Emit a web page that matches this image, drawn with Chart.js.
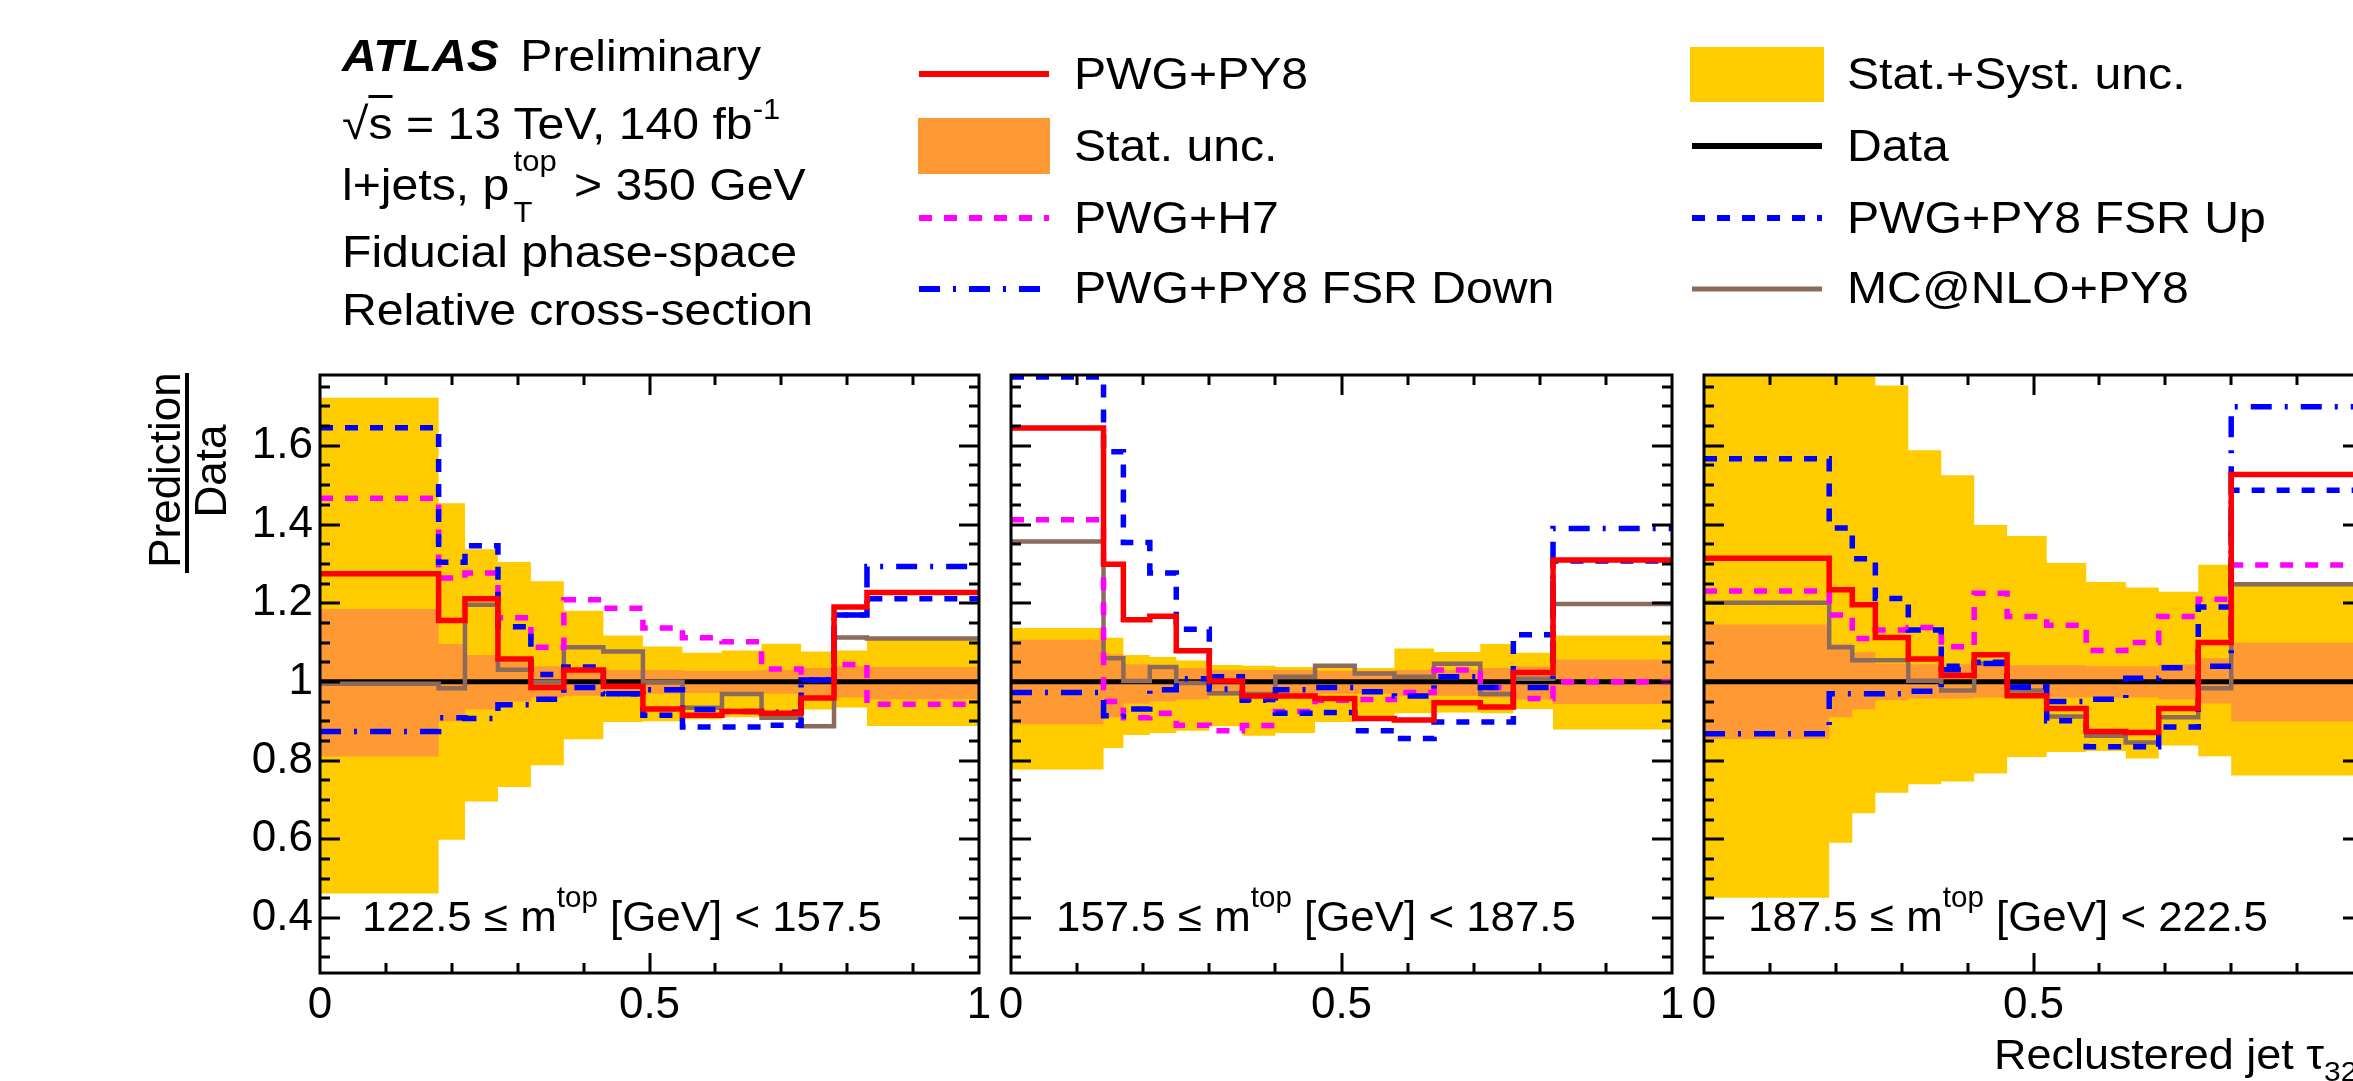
<!DOCTYPE html>
<html>
<head>
<meta charset="utf-8">
<title>Reclustered jet tau32 ratio</title>
<script src="https://cdn.jsdelivr.net/npm/chart.js@4.4.1/dist/chart.umd.min.js"></script>
<style>
  html, body { margin: 0; padding: 0; }
  body { width: 2353px; height: 1081px; overflow: hidden; background: #fff; position: relative;
         font-family: "Liberation Sans", Arial, Helvetica, sans-serif; color: #000; }
  canvas { position: absolute; top: 0; }
  .txt { position: absolute; white-space: nowrap; line-height: 1; font-size: 45px;
         transform: scaleX(1.07); transform-origin: 0 0; }
  .lab { font-size: 43px; transform: scaleX(1.02); }
  .rot { font-size: 44px; transform: rotate(-90deg); transform-origin: 50% 50%; text-align: center; width: 300px; }
  .up { position: relative; font-size: 29px; }
  .stack { display: inline-block; position: relative; width: 44px; height: 45px; margin-left: 4px; vertical-align: top; }
  .stack span { position: absolute; left: 0; font-size: 29px; line-height: 1; }
</style>
</head>
<body>
<canvas id="leg" width="2353" height="1081" style="left:0"></canvas>
<canvas id="p1" width="1000" height="1081" style="left:0"></canvas>
<canvas id="p2" width="731" height="1081" style="left:971px"></canvas>
<canvas id="p3" width="740" height="1081" style="left:1664px"></canvas>

<!-- header -->
<div class="txt" style="left:342px;top:33px"><b><i>ATLAS</i></b><span style="margin-left:20px">Preliminary</span></div>
<div class="txt" style="left:342px;top:101px">&radic;<span style="text-decoration:overline;text-decoration-thickness:3px">s</span> = 13 TeV, 140 fb<span class="up" style="top:-20px">-1</span></div>
<div class="txt" style="left:342px;top:162px">l+jets, p<span class="stack"><span style="top:-15px">top</span><span style="top:36px">T</span></span> &gt; 350 GeV</div>
<div class="txt" style="left:342px;top:229px">Fiducial phase-space</div>
<div class="txt" style="left:342px;top:287px">Relative cross-section</div>

<!-- legend text -->
<div class="txt" style="left:1074px;top:51px">PWG+PY8</div>
<div class="txt" style="left:1074px;top:123px">Stat. unc.</div>
<div class="txt" style="left:1074px;top:195px">PWG+H7</div>
<div class="txt" style="left:1074px;top:265px">PWG+PY8 FSR Down</div>
<div class="txt" style="left:1847px;top:51px">Stat.+Syst. unc.</div>
<div class="txt" style="left:1847px;top:123px">Data</div>
<div class="txt" style="left:1847px;top:195px">PWG+PY8 FSR Up</div>
<div class="txt" style="left:1847px;top:265px">MC@NLO+PY8</div>

<!-- y title -->
<div class="txt rot" style="left:15px;top:448px">Prediction</div>
<div class="txt rot" style="left:61px;top:449px">Data</div>
<div style="position:absolute;left:185px;top:373px;width:4px;height:200px;background:#000"></div>

<!-- panel labels -->
<div class="txt lab" style="left:362px;top:895px">122.5 &le; m<span class="up" style="top:-24px">top</span> [GeV] &lt; 157.5</div>
<div class="txt lab" style="left:1056px;top:895px">157.5 &le; m<span class="up" style="top:-24px">top</span> [GeV] &lt; 187.5</div>
<div class="txt lab" style="left:1748px;top:895px">187.5 &le; m<span class="up" style="top:-24px">top</span> [GeV] &lt; 222.5</div>

<!-- x title -->
<div class="txt" style="left:1994px;top:1034px;font-size:42px">Reclustered jet &tau;<span class="up" style="top:12px;font-size:28px">32</span></div>

<script>
// bin edges and ratios
// panel 1: 122.5 <= m_top < 157.5
const edges1 = [0, 0.18, 0.22, 0.27, 0.32, 0.37, 0.43, 0.49, 0.55, 0.61, 0.67, 0.73, 0.78, 0.83, 1.0];
const totUp1 = [1.722, 1.454, 1.337, 1.305, 1.256, 1.181, 1.118, 1.09, 1.074, 1.08, 1.097, 1.077, 1.08, 1.11];
const totDn1 = [0.462, 0.599, 0.696, 0.733, 0.788, 0.854, 0.898, 0.90, 0.905, 0.91, 0.915, 0.93, 0.935, 0.888];
const statUp1 = [1.185, 1.096, 1.068, 1.05, 1.04, 1.035, 1.03, 1.03, 1.028, 1.028, 1.03, 1.035, 1.04, 1.038];
const statDn1 = [0.81, 0.90, 0.93, 0.95, 0.96, 0.965, 0.97, 0.97, 0.972, 0.972, 0.97, 0.965, 0.96, 0.956];
const pwgPy8_1 = [1.275, 1.156, 1.211, 1.058, 0.986, 1.03, 0.989, 0.931, 0.915, 0.925, 0.92, 0.959, 1.19, 1.227];
const pwgH7_1 = [1.467, 1.264, 1.277, 1.163, 1.088, 1.209, 1.187, 1.137, 1.112, 1.102, 1.033, 1.005, 1.044, 0.943];
const fsrUp1 = [1.646, 1.304, 1.346, 1.14, 1.019, 1.038, 0.97, 0.915, 0.885, 0.885, 0.89, 1.005, 1.17, 1.211];
const fsrDown1 = [0.874, 0.909, 0.907, 0.942, 0.956, 0.986, 0.97, 0.98, 0.93, 0.925, 0.923, 1.005, 1.17, 1.293];
const mcnlo1 = [0.995, 0.984, 1.196, 1.031, 1.0, 1.088, 1.077, 1.0, 0.934, 0.969, 0.909, 0.887, 1.113, 1.11];

// panel 2: 157.5 <= m_top < 187.5
const edges2 = [0, 0.14, 0.17, 0.21, 0.25, 0.30, 0.35, 0.40, 0.46, 0.52, 0.58, 0.64, 0.71, 0.76, 0.82, 1.0];
const totUp2 = [1.137, 1.112, 1.068, 1.063, 1.054, 1.043, 1.041, 1.038, 1.035, 1.035, 1.085, 1.076, 1.096, 1.074, 1.118];
const totDn2 = [0.777, 0.832, 0.865, 0.87, 0.876, 0.887, 0.863, 0.87, 0.898, 0.909, 0.92, 0.922, 0.92, 0.931, 0.879];
const statUp2 = [1.107, 1.07, 1.045, 1.04, 1.035, 1.03, 1.03, 1.03, 1.028, 1.028, 1.03, 1.03, 1.035, 1.04, 1.057];
const statDn2 = [0.892, 0.91, 0.945, 0.95, 0.955, 0.965, 0.965, 0.965, 0.97, 0.97, 0.965, 0.965, 0.96, 0.955, 0.944];
const pwgPy8_2 = [1.645, 1.299, 1.158, 1.167, 1.079, 1.002, 0.964, 0.964, 0.958, 0.907, 0.903, 0.947, 0.936, 1.024, 1.31];
const pwgH7_2 = [1.412, 0.95, 0.909, 0.92, 0.89, 0.876, 0.889, 0.925, 0.953, 0.955, 0.973, 1.03, 0.986, 0.958, 1.0];
const fsrUp2 = [1.775, 1.585, 1.354, 1.277, 1.134, 1.013, 0.955, 0.92, 0.922, 0.876, 0.856, 0.898, 0.898, 1.12, 1.307];
const fsrDown2 = [0.973, 0.914, 0.931, 0.98, 1.008, 0.982, 0.953, 0.98, 0.986, 0.975, 0.964, 1.013, 0.986, 0.986, 1.39];
const mcnlo2 = [1.357, 1.06, 1.002, 1.038, 0.997, 0.971, 0.969, 1.013, 1.041, 1.021, 1.013, 1.046, 0.969, 1.008, 1.198];

// panel 3: 187.5 <= m_top < 222.5
const edges3 = [0, 0.19, 0.225, 0.26, 0.31, 0.36, 0.41, 0.46, 0.52, 0.58, 0.64, 0.69, 0.75, 0.80, 1.0];
const totUp3 = [1.85, 1.85, 1.85, 1.753, 1.589, 1.525, 1.399, 1.371, 1.302, 1.254, 1.24, 1.229, 1.298, 1.25];
const totDn3 = [0.451, 0.591, 0.666, 0.718, 0.74, 0.747, 0.767, 0.809, 0.822, 0.824, 0.805, 0.838, 0.811, 0.762];
const statUp3 = [1.146, 1.097, 1.075, 1.047, 1.045, 1.045, 1.042, 1.042, 1.042, 1.04, 1.04, 1.045, 1.06, 1.1];
const statDn3 = [0.855, 0.91, 0.93, 0.954, 0.958, 0.958, 0.96, 0.96, 0.96, 0.96, 0.96, 0.955, 0.945, 0.899];
const pwgPy8_3 = [1.314, 1.234, 1.196, 1.113, 1.058, 1.016, 1.069, 0.965, 0.932, 0.874, 0.871, 0.932, 1.1, 1.527];
const pwgH7_3 = [1.231, 1.17, 1.11, 1.132, 1.138, 1.089, 1.225, 1.166, 1.144, 1.08, 1.1, 1.166, 1.21, 1.297];
const fsrUp3 = [1.567, 1.391, 1.313, 1.212, 1.132, 1.04, 1.05, 0.987, 0.901, 0.835, 0.835, 0.885, 1.19, 1.487];
const fsrDown3 = [0.868, 0.97, 0.97, 0.97, 0.976, 1.031, 1.047, 0.987, 0.95, 0.956, 1.009, 1.036, 1.04, 1.699];
const mcnlo3 = [1.201, 1.088, 1.055, 1.055, 1.003, 0.978, 1.047, 0.978, 0.912, 0.863, 0.846, 0.91, 0.984, 1.248];

// data / data
const dataRatio = [1];

const FONT = '"Liberation Sans", Arial, Helvetica, sans-serif';
const YELLOW = '#ffcc00', ORANGE = '#ff9933', RED = '#ff0000', BLUE = '#0000ff',
      MAGENTA = '#ff00ff', BROWN = '#8c6b5d';
const DASH = [13, 12], DASHDOT = [21, 13, 3, 13];
const NONE = 'rgba(0,0,0,0)';

// histogram -> points for a stepped line (last bin closed at the right edge)
function steps(edges, vals) {
  const pts = vals.map((v, i) => ({ x: edges[i], y: v }));
  pts.push({ x: edges[edges.length - 1], y: vals[vals.length - 1] });
  return pts;
}

function hist(edges, vals, color, width, dash, order) {
  return { data: steps(edges, vals), stepped: 'before', borderColor: color, borderWidth: width,
           borderDash: dash, fill: false, pointRadius: 0, order: order };
}

function band(edges, up, dn, color, order) {
  return [
    { data: steps(edges, up), stepped: 'before', fill: '+1', backgroundColor: color,
      borderColor: NONE, borderWidth: 0, pointRadius: 0, order: order },
    { data: steps(edges, dn), stepped: 'before', fill: false, borderColor: NONE,
      borderWidth: 0, pointRadius: 0, order: order }
  ];
}

// ROOT style frame with inward ticks on all sides
const rootFrame = {
  id: 'rootFrame',
  afterDraw(chart) {
    const { ctx, chartArea: a } = chart;
    const xs = chart.scales.x, ys = chart.scales.y;
    ctx.save();
    ctx.strokeStyle = '#000';
    ctx.lineWidth = 3;
    ctx.beginPath();
    for (let k = 6; k <= 35; k++) {
      const py = Math.round(ys.getPixelForValue(k * 0.05));
      const len = k % 4 === 0 ? 20 : 10;
      ctx.moveTo(a.left, py); ctx.lineTo(a.left + len, py);
      ctx.moveTo(a.right, py); ctx.lineTo(a.right - len, py);
    }
    for (let k = 1; k < 10; k++) {
      const px = Math.round(xs.getPixelForValue(k / 10));
      const len = k % 5 === 0 ? 20 : 10;
      ctx.moveTo(px, a.bottom); ctx.lineTo(px, a.bottom - len);
      ctx.moveTo(px, a.top); ctx.lineTo(px, a.top + len);
    }
    ctx.stroke();
    ctx.strokeRect(a.left, a.top, a.right - a.left, a.bottom - a.top);
    ctx.restore();
  }
};

const fmt = v => String(Math.round(v * 100) / 100);

function drawPanel(id, edges, totUp, totDn, statUp, statDn, py8, h7, up, down, mcnlo, showY, padLeft, padRight) {
  const datasets = [
    ...band(edges, totUp, totDn, YELLOW, 10),
    ...band(edges, statUp, statDn, ORANGE, 9),
    hist([0, 1], dataRatio, '#000', 5, [], 8),
    hist(edges, mcnlo, BROWN, 4.5, [], 6),
    hist(edges, h7, MAGENTA, 5.5, DASH, 5),
    hist(edges, down, BLUE, 5.5, DASHDOT, 4),
    hist(edges, up, BLUE, 5.5, DASH, 3),
    hist(edges, py8, RED, 5.5, [], 1)
  ];
  new Chart(document.getElementById(id), {
    type: 'line',
    data: { datasets: datasets },
    options: {
      responsive: false,
      animation: false,
      events: [],
      layout: { padding: { top: 375, left: padLeft, right: padRight, bottom: 0 } },
      plugins: { legend: { display: false }, tooltip: { enabled: false } },
      scales: {
        x: {
          type: 'linear', min: 0, max: 1,
          afterFit: s => { s.height = 108; },
          grid: { display: false, drawTicks: false },
          border: { display: false },
          ticks: { stepSize: 0.5, autoSkip: false, maxRotation: 0, padding: 6, color: '#000',
                   font: { size: 44, family: FONT }, callback: fmt }
        },
        y: {
          type: 'linear', min: 0.26, max: 1.78, display: showY,
          afterFit: s => { s.width = showY ? 320 : 0; },
          grid: { display: false, drawTicks: false },
          border: { display: false },
          ticks: { stepSize: 0.2, includeBounds: false, padding: 7, color: '#000',
                   font: { size: 44, family: FONT }, callback: fmt }
        }
      }
    },
    plugins: [rootFrame]
  });
}

drawPanel('p1', edges1, totUp1, totDn1, statUp1, statDn1, pwgPy8_1, pwgH7_1, fsrUp1, fsrDown1, mcnlo1, true, 0, 21);
drawPanel('p2', edges2, totUp2, totDn2, statUp2, statDn2, pwgPy8_2, pwgH7_2, fsrUp2, fsrDown2, mcnlo2, false, 40, 30);
drawPanel('p3', edges3, totUp3, totDn3, statUp3, statDn3, pwgPy8_3, pwgH7_3, fsrUp3, fsrDown3, mcnlo3, false, 40, 41);

// legend samples
const lg = document.getElementById('leg').getContext('2d');
function legLine(x0, x1, y, color, width, dash) {
  lg.save();
  lg.strokeStyle = color;
  lg.lineWidth = width;
  lg.setLineDash(dash);
  lg.beginPath();
  lg.moveTo(x0, y);
  lg.lineTo(x1, y);
  lg.stroke();
  lg.restore();
}
legLine(919, 1049, 74, RED, 6, []);
lg.fillStyle = ORANGE;
lg.fillRect(918, 118, 132, 56);
legLine(919, 1049, 218, MAGENTA, 6, DASH);
legLine(919, 1049, 289, BLUE, 6, DASHDOT);
lg.fillStyle = YELLOW;
lg.fillRect(1690, 47, 134, 55);
legLine(1692, 1822, 146, '#000', 6, []);
legLine(1692, 1822, 218, BLUE, 6, DASH);
legLine(1692, 1822, 289, BROWN, 5, []);
</script>
</body>
</html>
